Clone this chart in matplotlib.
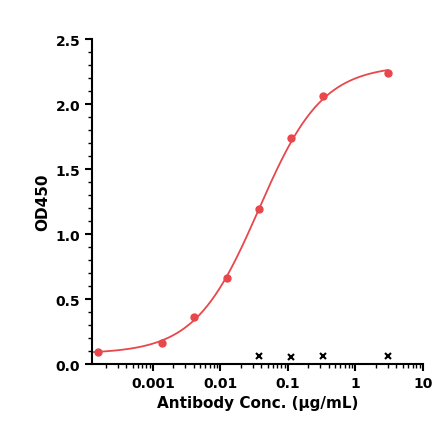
import numpy as np
import matplotlib
matplotlib.use("Agg")
import matplotlib.pyplot as plt
from matplotlib.ticker import LogLocator, MultipleLocator, FixedLocator

conc = [0.000152, 0.00137, 0.00412, 0.0123, 0.037, 0.111, 0.333, 3.0]
od = [0.09, 0.16, 0.36, 0.66, 1.19, 1.74, 2.06, 2.24]
neg_conc = [0.037, 0.111, 0.333, 3.0]
neg_od = [0.06, 0.055, 0.06, 0.065]
# 4PL fit parameters
bottom, top, ec50, hill = 0.08, 2.30, 0.037, 0.92

red = "#e8474c"
fig = plt.figure(figsize=(4.42, 4.31), dpi=100)
ax = fig.add_axes([0.208, 0.153, 0.749, 0.754])
xs = np.logspace(np.log10(0.000125), np.log10(3.0), 300)
ax.plot(xs, bottom + (top - bottom) / (1 + (ec50 / xs) ** hill), color=red, lw=1.3)
ax.plot(conc, od, 'o', color=red, ms=5)
ax.plot(neg_conc, neg_od, 'x', color='black', ms=5, mew=1.5)
ax.set_xscale('log')
ax.set_xlim(0.000125, 10)
ax.set_ylim(0, 2.5)
ax.xaxis.set_major_locator(FixedLocator([0.001, 0.01, 0.1, 1, 10]))
ax.xaxis.set_minor_locator(LogLocator(base=10, subs=np.arange(2, 10), numticks=20))
ax.set_xticklabels(['0.001', '0.01', '0.1', '1', '10'])
ax.yaxis.set_major_locator(MultipleLocator(0.5))
ax.yaxis.set_minor_locator(MultipleLocator(0.1))
ax.yaxis.set_major_formatter(matplotlib.ticker.FormatStrFormatter('%.1f'))
for s in ['top', 'right']:
    ax.spines[s].set_visible(False)
for s in ['left', 'bottom']:
    ax.spines[s].set_linewidth(1.5)
ax.tick_params(which='major', length=5, width=1.5, labelsize=10)
ax.tick_params(which='minor', length=3, width=1)
for lab in ax.get_xticklabels() + ax.get_yticklabels():
    lab.set_fontweight('bold')
ax.set_xlabel('Antibody Conc. (μg/mL)', fontweight='bold', fontsize=11)
ax.set_ylabel('OD450', fontweight='bold', fontsize=11)
fig.savefig('out.png', dpi=100)
